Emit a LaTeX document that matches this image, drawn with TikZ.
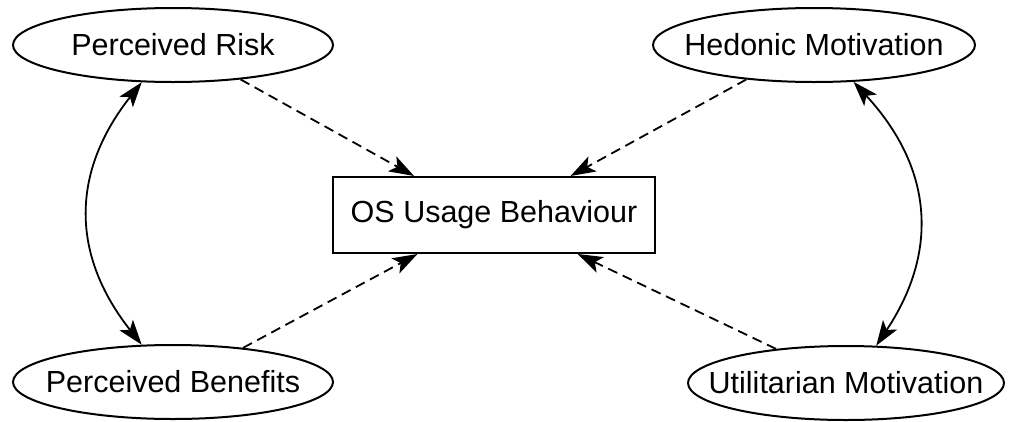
\documentclass[tikz,border=0pt]{standalone}
\usepackage{fontspec}
\setmainfont{Liberation Sans}
\usetikzlibrary{shapes.geometric,arrows.meta}

\begin{document}
\begin{tikzpicture}[x=1pt,y=-1pt,
  construct/.style={ellipse,draw,line width=2pt,inner xsep=-40pt,inner ysep=0pt,
    minimum height=74pt,font=\fontsize{30.5}{36}\selectfont},
  outcome/.style={rectangle,draw,line width=2pt,inner sep=0pt,
    minimum width=322pt,minimum height=76pt,font=\fontsize{30.5}{36}\selectfont},
  head/.tip={Stealth[length=25pt,width=17pt,inset=6pt]},
  influence/.style={-head,line width=1.8pt,dash pattern=on 10pt off 6pt},
  relation/.style={head-head,line width=1.8pt}
]
\useasboundingbox (0,0) rectangle (1010,421);

\node[construct,minimum width=320pt] (pr) at (173,45) {Perceived Risk};
\node[construct,minimum width=320pt] (pb) at (173,382) {Perceived Benefits};
\node[construct,minimum width=322pt] (hm) at (814,45) {Hedonic Motivation};
\node[construct,minimum width=316pt] (um) at (846,383) {Utilitarian Motivation};
\node[outcome] (box) at (494,215) {OS Usage Behaviour};

% influences on usage behaviour
\draw[influence] (pr.-27) -- (box.154);
\draw[influence] (hm.-153) -- (box.27);
\draw[influence] (pb.26) -- (box.207);
\draw[influence] (um.154) -- (box.-25);

% correlations between paired constructs
\draw[relation] (pr.-130) .. controls +(-71,90) and +(-71,-90) .. (pb.130);
\draw[relation] (hm.-43) .. controls +(83,90) and +(60,-90) .. (um.51);
\end{tikzpicture}
\end{document}
